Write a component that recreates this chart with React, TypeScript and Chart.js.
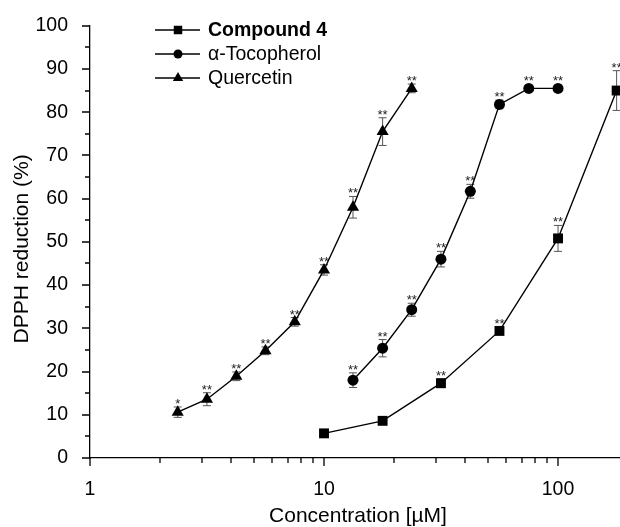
import React, { useEffect, useRef } from 'react';
import { Chart, registerables } from 'chart.js';

Chart.register(...registerables);

const FONT = '"Liberation Sans", Arial, Helvetica, sans-serif';

// Concentration (µM)
const compoundX = [10, 17.8, 31.6, 56.2, 100, 178];
const compoundY = [5.7, 8.6, 17.3, 29.4, 50.8, 85.0];
const compoundErr = [0.4, 0.5, 1.0, 0.9, 3.0, 4.6];
const compoundSig = ['', '', '**', '**', '**', '**'];

const tocoX = [13.3, 17.8, 23.7, 31.6, 42.2, 56.2, 75, 100];
const tocoY = [18.0, 25.4, 34.3, 46.0, 61.7, 81.8, 85.5, 85.5];
const tocoErr = [1.7, 2.0, 1.5, 1.8, 1.6, 1.0, 0.5, 0.5];
const tocoSig = ['**', '**', '**', '**', '**', '**', '**', '**'];

const quercX = [2.37, 3.16, 4.22, 5.62, 7.5, 10, 13.3, 17.8, 23.7];
const quercY = [10.6, 13.6, 18.9, 24.8, 31.5, 43.5, 58.0, 75.5, 85.5];
const quercErr = [1.2, 1.5, 1.0, 0.9, 1.0, 1.2, 2.5, 3.2, 1.0];
const quercSig = ['*', '**', '**', '**', '**', '**', '**', '**', '**'];

const seriesNames = ['Compound 4', 'α-Tocopherol', 'Quercetin'];
const seriesStyles = ['rect', 'circle', 'triangle'];
const seriesRadius = [7, 5.5, 7];

const xMajorTicks = [1, 10, 100];
const yTicksMax = 100;
const xTitle = 'Concentration [µM]';
const yTitle = 'DPPH reduction (%)';

const seriesErr = [compoundErr, tocoErr, quercErr];
const seriesSig = [compoundSig, tocoSig, quercSig];

function drawMarker(ctx: CanvasRenderingContext2D, style: string, r: number, x: number, y: number) {
  ctx.beginPath();
  if (style === 'rect') {
    const s = Math.SQRT1_2 * r;
    ctx.rect(x - s, y - s, 2 * s, 2 * s);
  } else if (style === 'circle') {
    ctx.arc(x, y, r, 0, Math.PI * 2);
  } else {
    for (let i = 0; i < 3; i++) {
      const a = (i * 2 * Math.PI) / 3;
      const px = x + Math.sin(a) * r;
      const py = y - Math.cos(a) * r;
      if (i === 0) ctx.moveTo(px, py);
      else ctx.lineTo(px, py);
    }
    ctx.closePath();
  }
  ctx.fill();
}

const decorPlugin = {
  id: 'decor',
  beforeDatasetsDraw(chart: any) {
    const ctx = chart.ctx as CanvasRenderingContext2D;
    const xs = chart.scales.x;
    const ys = chart.scales.y;
    ctx.save();
    ctx.strokeStyle = '#555';
    ctx.lineWidth = 1;
    chart.data.datasets.forEach((ds: any, i: number) => {
      const errs = seriesErr[i];
      ds.data.forEach((p: any, j: number) => {
        const e = errs[j];
        const x = xs.getPixelForValue(p.x);
        const yt = ys.getPixelForValue(p.y + e);
        const yb = ys.getPixelForValue(p.y - e);
        ctx.beginPath();
        ctx.moveTo(x, yt);
        ctx.lineTo(x, yb);
        ctx.moveTo(x - 4, yt);
        ctx.lineTo(x + 4, yt);
        ctx.moveTo(x - 4, yb);
        ctx.lineTo(x + 4, yb);
        ctx.stroke();
      });
    });
    ctx.restore();
  },
  afterDraw(chart: any) {
    const ctx = chart.ctx as CanvasRenderingContext2D;
    const xs = chart.scales.x;
    const ys = chart.scales.y;
    const area = chart.chartArea;
    ctx.save();
    // tick marks
    ctx.strokeStyle = '#000';
    ctx.lineWidth = 1.3;
    ctx.beginPath();
    for (let v = 0; v <= yTicksMax; v += 5) {
      const y = Math.round(ys.getPixelForValue(v));
      const len = v % 10 === 0 ? 8 : 5;
      ctx.moveTo(area.left - len, y);
      ctx.lineTo(area.left, y);
    }
    xMajorTicks.forEach((d) => {
      for (let k = 1; k <= 9; k++) {
        const v = k * d;
        if (v > xs.max) break;
        const x = Math.round(xs.getPixelForValue(v));
        const len = k === 1 ? 8 : 5;
        ctx.moveTo(x, area.bottom);
        ctx.lineTo(x, area.bottom + len);
      }
    });
    ctx.stroke();

    // axis titles
    ctx.fillStyle = '#000';
    ctx.font = `21px ${FONT}`;
    ctx.textAlign = 'center';
    ctx.textBaseline = 'middle';
    ctx.fillText(xTitle, (area.left + area.right) / 2 + 3, 516);
    ctx.save();
    ctx.translate(22, (area.top + area.bottom) / 2 + 7);
    ctx.rotate(-Math.PI / 2);
    ctx.fillText(yTitle, 0, 0);
    ctx.restore();

    // significance stars
    ctx.fillStyle = '#222';
    ctx.font = `13px ${FONT}`;
    ctx.textAlign = 'center';
    ctx.textBaseline = 'alphabetic';
    chart.data.datasets.forEach((ds: any, i: number) => {
      const errs = seriesErr[i];
      const sig = seriesSig[i];
      ds.data.forEach((p: any, j: number) => {
        if (!sig[j]) return;
        const x = xs.getPixelForValue(p.x);
        const yc = ys.getPixelForValue(p.y);
        const yt = ys.getPixelForValue(p.y + errs[j]);
        const center = Math.min(yc - 11, yt - 7);
        ctx.fillText(sig[j], x, center + 8);
      });
    });

    // legend
    const rows = [30, 54, 78];
    ctx.fillStyle = '#000';
    ctx.strokeStyle = '#000';
    ctx.lineWidth = 1.3;
    ctx.textAlign = 'left';
    ctx.textBaseline = 'middle';
    seriesNames.forEach((name, i) => {
      const y = rows[i];
      ctx.beginPath();
      ctx.moveTo(155, y);
      ctx.lineTo(200, y);
      ctx.stroke();
      drawMarker(ctx, seriesStyles[i], seriesRadius[i] - 1, 178, y);
      ctx.font = `${i === 0 ? 'bold ' : ''}19.5px ${FONT}`;
      ctx.fillText(name, 208, y + 1);
    });
    ctx.restore();
  },
};

function makeData(xs: number[], ys: number[]) {
  return xs.map((x, i) => ({ x, y: ys[i] }));
}

export default function App() {
  const ref = useRef<HTMLCanvasElement | null>(null);
  useEffect(() => {
    if (!ref.current) return;
    const common = {
      borderColor: '#000',
      backgroundColor: '#000',
      borderWidth: 1.4,
      pointBorderWidth: 0,
      tension: 0,
      clip: false as any,
      showLine: true,
    };
    const chart = new Chart(ref.current, {
      type: 'line',
      data: {
        datasets: [
          { ...common, label: seriesNames[0], data: makeData(compoundX, compoundY), pointStyle: 'rect', pointRadius: seriesRadius[0] },
          { ...common, label: seriesNames[1], data: makeData(tocoX, tocoY), pointStyle: 'circle', pointRadius: seriesRadius[1] },
          { ...common, label: seriesNames[2], data: makeData(quercX, quercY), pointStyle: 'triangle', pointRadius: seriesRadius[2] },
        ],
      },
      options: {
        animation: false,
        responsive: false,
        maintainAspectRatio: false,
        layout: { padding: { top: 25, left: 0, right: 0, bottom: 0 }, autoPadding: false },
        plugins: { legend: { display: false }, tooltip: { enabled: false } },
        scales: {
          x: {
            type: 'logarithmic',
            min: 1,
            max: 184,
            grid: { display: false },
            border: { display: true, color: '#000', width: 1.3 },
            afterBuildTicks: (scale: any) => {
              scale.ticks = xMajorTicks.map((v) => ({ value: v }));
            },
            afterFit: (scale: any) => {
              scale.height = 69;
            },
            ticks: {
              color: '#000',
              font: { family: FONT, size: 19.5 },
              padding: 12,
              maxRotation: 0,
              autoSkip: false,
              callback: (v: any) => String(v),
            },
          },
          y: {
            min: 0,
            max: yTicksMax,
            grid: { display: false },
            border: { display: true, color: '#000', width: 1.3 },
            afterFit: (scale: any) => {
              scale.width = 90;
            },
            ticks: {
              stepSize: 10,
              color: '#000',
              font: { family: FONT, size: 19.5 },
              padding: 14,
              callback: (v: any) => String(v),
            },
          },
        },
      },
      plugins: [decorPlugin],
    } as any);
    return () => chart.destroy();
  }, []);
  return (
    <div style={{ position: 'absolute', left: 0, top: 0, width: 620, height: 527, background: '#fff' }}>
      <canvas ref={ref} width={620} height={527} style={{ display: 'block' }} />
    </div>
  );
}
